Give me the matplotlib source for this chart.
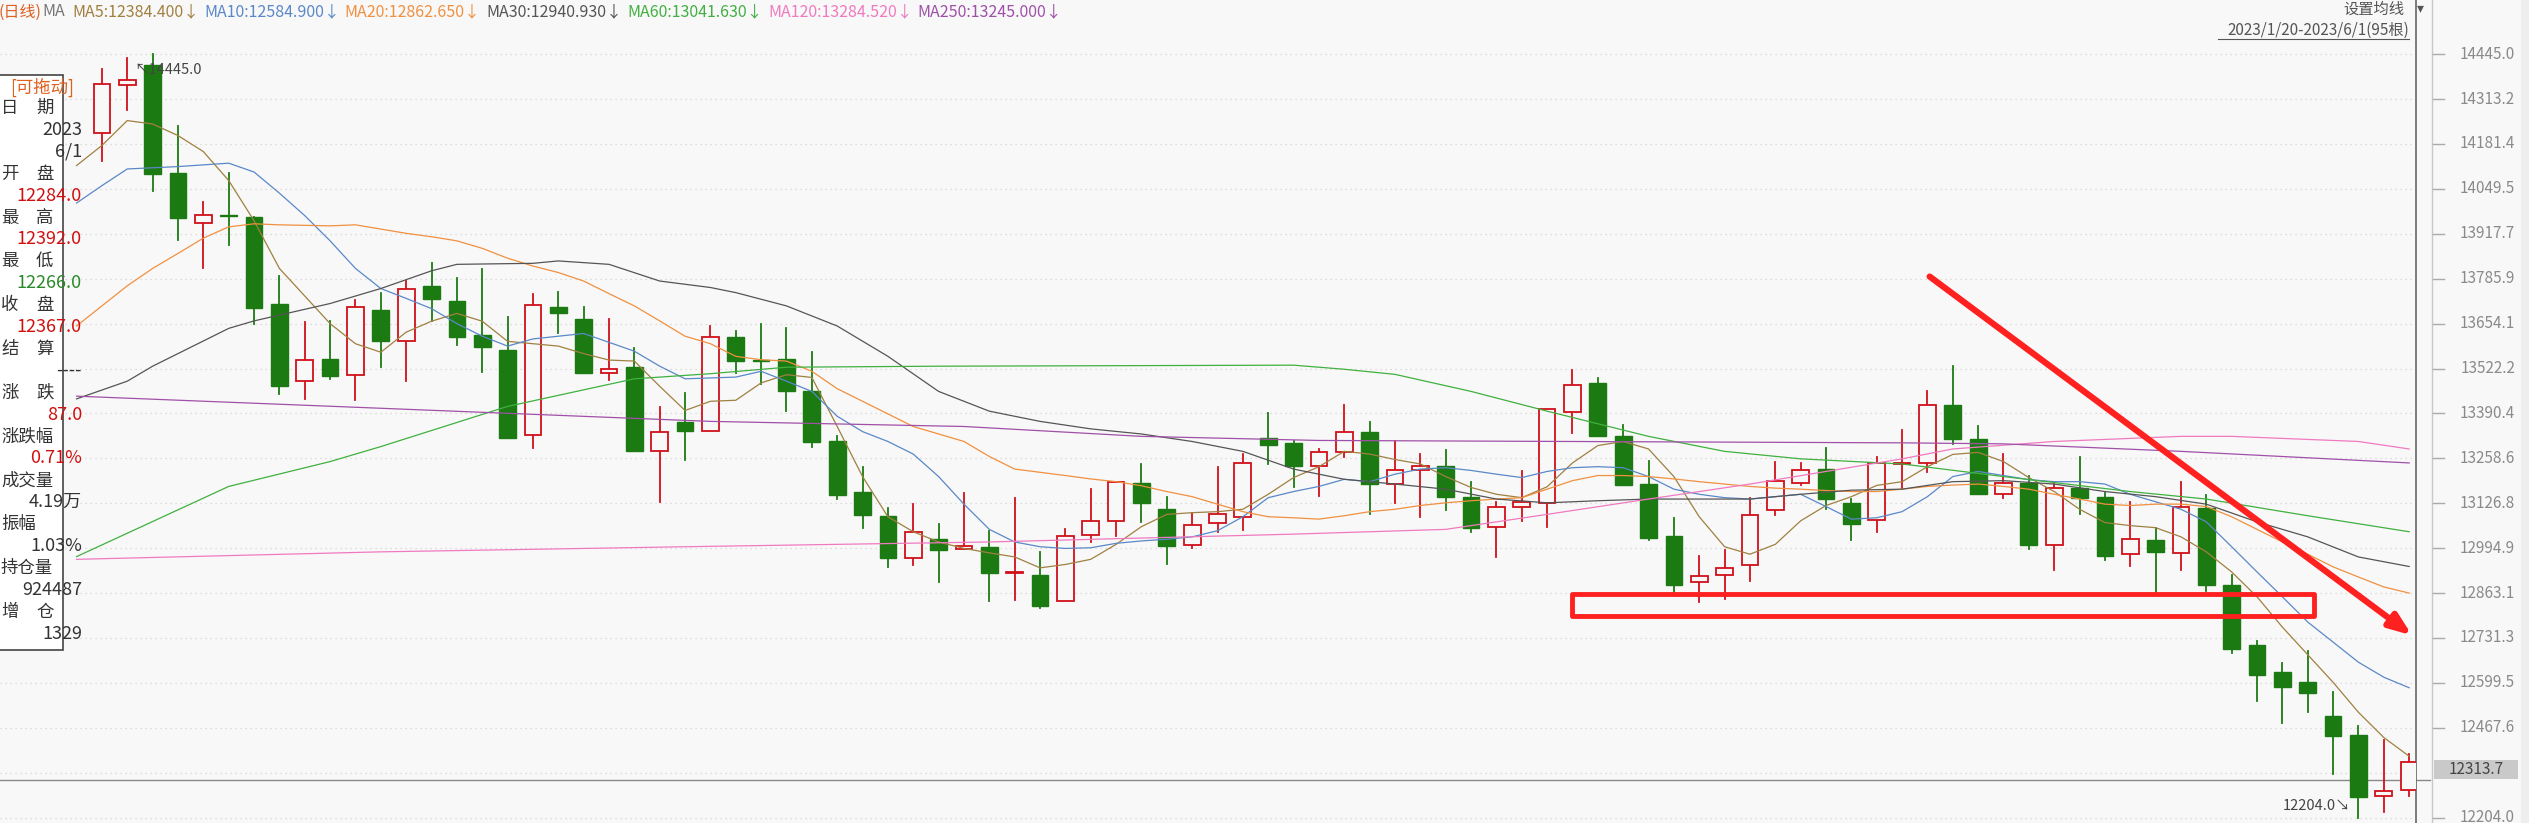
import matplotlib
matplotlib.use("Agg")
import matplotlib.pyplot as plt
from matplotlib.patches import Rectangle
from matplotlib.transforms import blended_transform_factory
import numpy as np

plt.rcParams['font.family'] = ['Noto Sans CJK SC', 'DejaVu Sans']

opens = [14214,14354,14413,14097,13949,13972,13968,13713,13485,13551,
         13503,13694,13603,13765,13720,13622,13576,13326,13704,13669,
         13510,13526,13279,13364,13338,13614,13548,13551,13457,13308,
         13159,13089,12965,13022,12993,12999,12922,12916,12840,13034,
         13075,13187,13111,13005,13070,13087,13317,13304,13235,13276,
         13335,13184,13223,13237,13146,13058,13117,13126,13394,13480,
         13323,13184,13031,12896,12916,12946,13108,13187,13226,13126,
         13078,13242,13246,13414,13314,13155,13187,13005,13171,13146,
         12977,13020,12981,13114,12887,12712,12632,12601,12503,12447,
         12268,12284]
highs = [14401,14435,14445,14233,14012,14096,13968,13794,13660,13662,
         13723,13743,13779,13831,13787,13813,13672,13740,13746,13704,
         13669,13581,13410,13451,13647,13632,13654,13640,13570,13323,
         13232,13114,13124,13065,13158,13046,13143,12984,13050,13168,
         13190,13242,13146,13099,13232,13271,13392,13308,13286,13416,
         13364,13308,13270,13282,13190,13131,13220,13402,13519,13495,
         13355,13252,13083,12972,12990,13143,13249,13245,13290,13139,
         13261,13341,13455,13529,13352,13270,13208,13186,13263,13156,
         13131,13055,13189,13151,12916,12722,12657,12693,12572,12472,
         12432,12392]
lows = [14130,14280,14044,13900,13816,13885,13654,13447,13432,13491,
        13429,13526,13485,13662,13591,13511,13317,13289,13625,13510,
        13488,13279,13131,13254,13338,13510,13476,13397,13293,13139,
        13053,12940,12946,12896,12993,12840,12843,12819,12840,13014,
        13031,13073,12947,12996,13043,13049,13242,13173,13149,13261,
        13096,13128,13087,13106,13043,12969,13075,13058,13332,13323,
        13179,13018,12859,12837,12847,12899,13093,13179,13109,13018,
        13043,13171,13217,13301,13155,13143,12993,12931,13096,12961,
        12943,12859,12931,12869,12687,12545,12481,12513,12333,12204,
        12221,12266]
closes = [14358,14368,14092,13963,13972,13969,13701,13470,13547,13500,
          13703,13603,13756,13726,13614,13585,13317,13709,13684,13510,
          13520,13279,13335,13338,13614,13544,13544,13455,13305,13152,
          13093,12966,13043,12990,13002,12922,12924,12825,13031,13075,
          13190,13126,13002,13064,13096,13246,13299,13235,13276,13335,
          13184,13224,13235,13146,13055,13117,13131,13402,13475,13323,
          13179,13024,12887,12913,12937,13093,13193,13224,13140,13067,
          13246,13245,13414,13316,13155,13187,13005,13171,13142,12972,
          13021,12984,13117,12888,12699,12623,12588,12570,12444,12263,
          12282,12367]

ma5_idx = list(range(0, 93))
ma5_val = [14118,14177,14250,14240,14206,14159,14074,13956,13816,13735,
           13654,13595,13570,13629,13661,13684,13661,13602,13595,13588,
           13566,13547,13544,13470,13399,13426,13429,13480,13504,13496,
           13352,13205,13087,13043,13013,12994,12981,12969,12937,12947,
           12962,13006,13058,13094,13099,13102,13109,13153,13202,13234,
           13279,13271,13255,13242,13205,13173,13153,13143,13175,13245,
           13296,13308,13286,13205,13087,12999,12977,13006,13075,13120,
           13146,13179,13190,13234,13270,13276,13249,13202,13161,13109,
           13070,13061,13055,13028,12984,12925,12852,12763,12682,12601,
           12513,12439,12384]
ma10_idx = [0,1,2,4,6,7,8,9,10,11,12,13,14,15,16,17,18,20,22,23,24] + list(range(26, 93))
ma10_val = [14008,14059,14108,14115,14125,14099,14037,13971,13897,13816,13757,
            13728,13698,13654,13617,13588,13609,13625,13573,13529,13492,
            13497,13514,13485,13455,13382,13337,13308,13271,13205,13124,13050,13013,12999,12994,
            12996,13009,13016,13021,13028,13046,13087,13143,13161,13176,
            13197,13190,13212,13227,13231,13223,13212,13202,13220,13231,
            13234,13231,13205,13168,13153,13143,13139,13146,13153,13117,
            13080,13084,13102,13146,13205,13220,13208,13196,13190,13190,
            13183,13153,13131,13109,13072,12999,12925,12852,12778,12719,
            12660,12616,12585]
ma20_idx = list(range(0, 9)) + [10, 11] + list(range(13, 38)) + list(range(39, 93))
ma20_val = [13647,13706,13765,13816,13860,13905,13938,13947,13944,
            13941,13944,
            13919,13909,13897,13875,13846,13823,13804,13779,13742,13706,13662,13617,13595,
            13558,13548,13544,13514,13463,13426,13389,13352,13330,13308,13264,13227,
            13208,13198,13190,13178,13161,13146,13124,13102,13087,13084,13080,
            13090,13102,13109,13120,13128,13134,13139,13143,13168,13193,13208,
            13208,13205,13198,13190,13183,13176,13171,13168,13164,13161,13161,
            13168,13176,13180,13183,13176,13168,13153,13139,13124,13120,13124,
            13124,13117,13087,13050,13013,12977,12940,12910,12881,12863]
ma30_idx = [0,2,3,5,6,7,10,12,14,15,18,19,21,23,25,26,28,30,32,34,36,38,40,42,44,46,48,
            50,52,54,56,58,60,62,64,66,68,70,72,74,76,78,80,82,84,86,88,90,92]
ma30_val = [13433,13485,13529,13603,13640,13662,13713,13757,13809,13828,13831,13838,13828,
            13779,13760,13745,13706,13647,13558,13455,13397,13367,13345,13330,13308,13279,13227,
            13197,13183,13168,13139,13128,13134,13139,13139,13139,13153,13165,13168,13190,
            13193,13183,13161,13146,13124,13072,13028,12969,12941]
ma60_idx = [0,6,10,12,17,22,25,28,34,48,50,52,55,58,62,65,68,72,76,81,84,88,92]
ma60_val = [12970,13176,13249,13293,13411,13492,13507,13526,13529,13532,13520,13505,
            13455,13397,13323,13279,13257,13242,13205,13161,13139,13090,13043]
ma120_idx = [0,12,24,36,48,54,58,62,66,69,72,74,78,83,85,90,92]
ma120_val = [12962,12984,12999,13013,13036,13050,13094,13139,13183,13220,13257,
             13286,13308,13323,13323,13308,13286]
ma250_idx = [0,25,35,42,49,72,76,83,92]
ma250_val = [13441,13367,13352,13323,13311,13304,13301,13279,13245]

tick_vals = [14445.0,14313.2,14181.4,14049.5,13917.7,13785.9,13654.1,13522.2,13390.4,
             13258.6,13126.8,12994.9,12863.1,12731.3,12599.5,12467.6,12204.0]
last_price = 12313.7

panel_labels = [("日", "期"), ("开", "盘"), ("最", "高"), ("最", "低"), ("收", "盘"),
                ("结", "算"), ("涨", "跌"), ("涨跌幅", ""), ("成交量", ""), ("振幅", ""),
                ("持仓量", ""), ("增", "仓")]
panel_values = [[("2023", "#333"), ("6/1", "#333")], [("12284.0", "#d01010")],
                [("12392.0", "#d01010")], [("12266.0", "#2a8a2a")], [("12367.0", "#d01010")],
                [("----", "#333")], [("87.0", "#d01010")], [("0.71%", "#d01010")],
                [("4.19万", "#333")], [("1.03%", "#333")], [("924487", "#333")], [("1329", "#333")]]

legend_items = [("(日线)", "#e06020", 0), ("MA", "#777777", 44),
                ("MA5:12384.400↓", "#a08040", 74), ("MA10:12584.900↓", "#5a88c8", 206),
                ("MA20:12862.650↓", "#f09040", 346), ("MA30:12940.930↓", "#555555", 488),
                ("MA60:13041.630↓", "#40b040", 629), ("MA120:13284.520↓", "#f07ac0", 770),
                ("MA250:13245.000↓", "#a050a8", 919)]

W, H = 2529, 823
BG = "#f8f8f8"
fig = plt.figure(figsize=(W / 100, H / 100), dpi=100, facecolor=BG)
axw = 2416 / W
ax = fig.add_axes([0, 0, axw, 1])
ax.set_facecolor(BG)
for s in ax.spines.values():
    s.set_visible(False)
ax.set_xticks([]); ax.set_yticks([])
ax.set_xlim(-3.02, 92.27)
ax.set_ylim(12188, 14604)
bl = blended_transform_factory(ax.transAxes, ax.transData)

for t in tick_vals + [12335.8]:
    ax.plot([0, 1], [t, t], transform=bl, color="#d4d4d4", lw=0.9, ls=(0, (1, 3)), zorder=0)

up_c, dn_c = "#d0101a", "#1c7a12"
x = np.arange(1, len(opens) + 1)
for xi, o, h, l, c in zip(x, opens, highs, lows, closes):
    if c >= o:
        top, bot = c, o
        ax.plot([xi, xi], [top, h], color=up_c, lw=1.3, zorder=3)
        ax.plot([xi, xi], [l, bot], color=up_c, lw=1.3, zorder=3)
        hgt = max(top - bot, 3)
        ax.add_patch(Rectangle((xi - 0.33, bot), 0.66, hgt, facecolor=BG, edgecolor=up_c, lw=1.3, zorder=4))
    else:
        ax.plot([xi, xi], [l, h], color=dn_c, lw=1.3, zorder=3)
        ax.add_patch(Rectangle((xi - 0.33, c), 0.66, max(o - c, 3), facecolor=dn_c, edgecolor=dn_c, lw=1, zorder=4))

mas = [(ma5_idx, ma5_val, "#a08040"), (ma10_idx, ma10_val, "#5a88c8"),
       (ma20_idx, ma20_val, "#f09040"), (ma30_idx, ma30_val, "#555555"),
       (ma60_idx, ma60_val, "#40b040"), (ma120_idx, ma120_val, "#f07ac0"),
       (ma250_idx, ma250_val, "#a050a8")]
for idx, val, col in mas:
    ax.plot(idx, val, color=col, lw=0.9, zorder=5)

ax.plot([0, 1.006], [last_price, last_price], transform=bl, color="#888888", lw=1.0, clip_on=False, zorder=2)

# annotations
ax.add_patch(Rectangle((59.0, 12796), 29.26, 63, facecolor="none", edgecolor="#ff2020", lw=3.5, zorder=8, joinstyle="round"))
ax.annotate("", xy=(92.2, 12734), xytext=(73.0, 13797),
            arrowprops=dict(arrowstyle="-|>,head_length=1.3,head_width=0.5", color="#ff2020", lw=4.5), zorder=8)
ax.text(2.3, 14398, "↖14445.0", fontsize=10.5, color="#444", va="center", ha="left", zorder=9)
ax.text(89.7, 12237, "12204.0↘", fontsize=10.5, color="#444", va="center", ha="right", zorder=9)

# right axis
ax.plot([1, 1], [0, 1], transform=ax.transAxes, color="#666", lw=1.2, clip_on=False)
ax.plot([2432 / 2416] * 2, [0, 1], transform=ax.transAxes, color="#c8c8c8", lw=1.0, clip_on=False)
for t in tick_vals:
    ax.plot([2433 / 2416, 2444 / 2416], [t, t], transform=bl, color="#aaa", lw=1, clip_on=False)
    ax.text(2515 / 2416, t, f"{t:.1f}", transform=bl, ha="right", va="center", fontsize=11,
            color="#8a8a8a", clip_on=False)
ax.add_patch(Rectangle((2434 / 2416, 12316), 84 / 2416, 58, transform=bl, facecolor="#c9c9c9",
                       edgecolor="none", clip_on=False, zorder=6))
ax.text(2476 / 2416, 12345, f"{last_price:.1f}", transform=bl, ha="center", va="center",
        fontsize=11, color="#444", clip_on=False, zorder=7)
fig.patches.append(Rectangle((2521 / W, 0), 8 / W, 1, transform=fig.transFigure, facecolor="#eeeeee", edgecolor="none"))

# left panel
ax.add_patch(Rectangle((-0.01, 1 - 650 / H), 87 / 2416, (650 - 75) / H, transform=ax.transAxes,
                       facecolor="white", edgecolor="#444", lw=1.2, zorder=10, clip_on=False))
ax.text(42 / 2416, 1 - 87 / H, "[可拖动]", transform=ax.transAxes, ha="center", va="center",
        fontsize=12.5, color="#e06020", zorder=11)
row = 0
for (a, b), vals in zip(panel_labels, panel_values):
    y = 1 - (108 + row * 21.9) / H
    ax.text(1 / 2416, y, a, transform=ax.transAxes, ha="left", va="center", fontsize=12.5, color="#333", zorder=11)
    if b:
        ax.text(36 / 2416, y, b, transform=ax.transAxes, ha="left", va="center", fontsize=12.5, color="#333", zorder=11)
    row += 1
    for v, col in vals:
        y = 1 - (108 + row * 21.9) / H
        ax.text(82 / 2416, y, v, transform=ax.transAxes, ha="right", va="center", fontsize=13, color=col, zorder=11)
        row += 1

# top legend
for txt, col, px in legend_items:
    fig.text((px - 2) / W, 1 - 12 / H, txt, ha="left", va="center", fontsize=11.5, color=col)
fig.text(2404 / W, 1 - 9 / H, "设置均线", ha="right", va="center", fontsize=11, color="#555")
fig.text(2420 / W, 1 - 8 / H, "▾", ha="center", va="center", fontsize=10, color="#555")
fig.text(2409 / W, 1 - 30 / H, "2023/1/20-2023/6/1(95根)", ha="right", va="center", fontsize=11, color="#555")
fig.lines.append(plt.Line2D([2218 / W, 2409 / W], [1 - 39 / H, 1 - 39 / H], transform=fig.transFigure, color="#555", lw=0.8))

fig.savefig("out.png", dpi=100, facecolor=BG)
